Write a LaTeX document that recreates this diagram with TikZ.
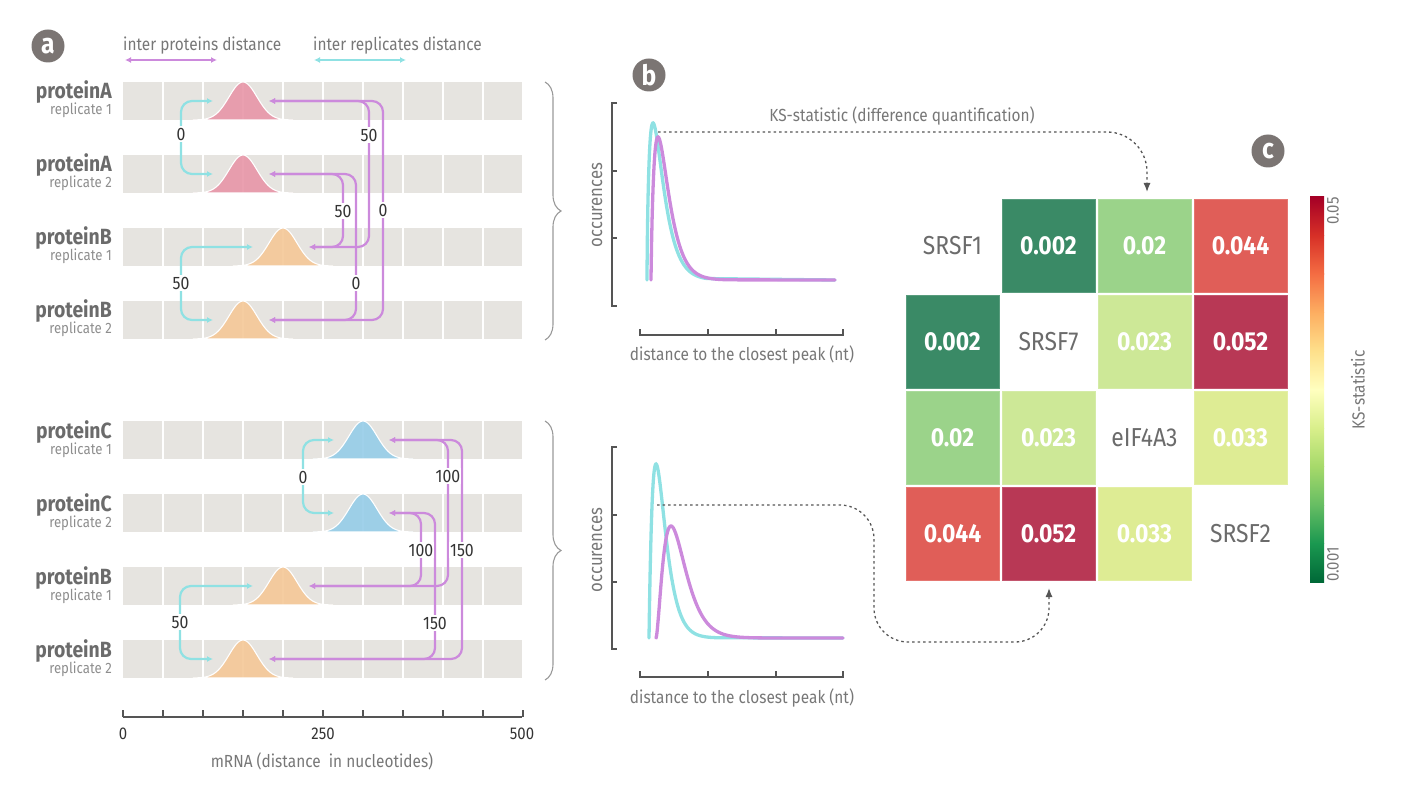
\documentclass[tikz,border=0pt]{standalone}
\usepackage{fontspec}
\setmainfont{Fira Sans}[FakeStretch=0.88]
\usetikzlibrary{arrows.meta,decorations.pathreplacing,calc}
\definecolor{purp}{HTML}{CC8ADC}
\definecolor{cyanl}{HTML}{8FE1E3}
\definecolor{bargray}{HTML}{E6E4E0}
\definecolor{pinkp}{HTML}{E896A8}
\definecolor{orangep}{HTML}{F5C897}
\definecolor{bluep}{HTML}{96CDE8}
\definecolor{labgray}{HTML}{6B6B6B}
\definecolor{subgray}{HTML}{8E8E8E}
\definecolor{txtgray}{HTML}{777777}
\definecolor{axgray}{HTML}{555555}
\definecolor{numgray}{HTML}{333333}
\definecolor{circgray}{HTML}{7B7573}
\definecolor{kdg}{HTML}{3A8A66}
\definecolor{klg}{HTML}{9BD38A}
\definecolor{kred}{HTML}{E05E58}
\definecolor{kyg}{HTML}{CDE897}
\definecolor{kcrim}{HTML}{B83855}
\definecolor{kyel}{HTML}{DEEC94}
\definecolor{cb0}{HTML}{A50026}
\definecolor{cb1}{HTML}{D73027}
\definecolor{cb2}{HTML}{F46D43}
\definecolor{cb3}{HTML}{FDAE61}
\definecolor{cb4}{HTML}{FEE08B}
\definecolor{cb5}{HTML}{FFFFBF}
\definecolor{cb6}{HTML}{D9EF8B}
\definecolor{cb7}{HTML}{A6D96A}
\definecolor{cb8}{HTML}{66BD63}
\definecolor{cb9}{HTML}{1A9850}
\definecolor{cb10}{HTML}{006837}
\tikzset{
  barbox/.style={minimum width=399pt, minimum height=38pt, inner sep=0pt, fill=bargray, draw=none},
  sepline/.style={white, line width=1.8pt},
  bumpline/.style={white, line width=1.1pt, fill opacity=0.9},
  pname/.style={font=\bfseries\fontsize{22}{22}\selectfont, text=labgray, anchor=base east, inner sep=0pt},
  rname/.style={font=\fontsize{15}{15}\selectfont, text=subgray, anchor=base east, inner sep=0pt},
  parr/.style={purp, line width=2.2pt, rounded corners=11pt, {Latex[length=6pt,width=6pt]}-{Latex[length=6pt,width=6pt]}},
  carr/.style={cyanl, line width=2.2pt, rounded corners=11pt, {Latex[length=6pt,width=6pt]}-{Latex[length=6pt,width=6pt]}},
  dlbl/.style={fill=white, inner xsep=1pt, inner ysep=2pt, font=\fontsize{18}{18}\selectfont, text=numgray},
  circlbl/.style={circle, fill=circgray, minimum size=33pt, inner sep=0pt, text=white, font=\bfseries\fontsize{28}{28}\selectfont},
  axline/.style={axgray, line width=1.3pt},
  axlbl/.style={font=\fontsize{17.5}{17.5}\selectfont, text=txtgray},
  ticklbl/.style={font=\fontsize{17}{17}\selectfont, text=numgray},
  cyanc/.style={cyanl, line width=3.3pt, line cap=round},
  purpc/.style={purp, line width=3.3pt, line cap=round},
  dotarr/.style={axgray, line width=1.3pt, dash pattern=on 2.5pt off 3pt, rounded corners=34pt, -{Latex[length=9pt,width=7pt]}},
  cellbox/.style={minimum width=93pt, minimum height=93pt, inner sep=0pt, draw=#1!85!white, line width=0.8pt, fill=#1, text=white, font=\bfseries\fontsize{26}{26}\selectfont},
  diaglbl/.style={minimum width=93pt, minimum height=93pt, inner sep=0pt, text=labgray, font=\fontsize{26}{26}\selectfont},
  brc/.style={decorate, decoration={brace, amplitude=16pt}, draw=black!40, line width=1.1pt}
}
\newcommand\mrnabar[2]{%
  \node[barbox] (#1) at (322.5,#2) {};
  \foreach \k in {1,...,9} \draw[sepline] (123+40*\k,#2-19) -- (123+40*\k,#2+19);
}
\newcommand\peakbump[3]{%
  \draw[bumpline, fill=#3] plot[domain=-50:50, samples=61] ({#1+\x},{#2+19-38*exp(-(\x*\x)/392)}) -- cycle;
}
\newcommand\rowlabel[3]{%
  \node[pname] at (112,#1-2) {#2};
  \node[rname] at (112,#1+14) {#3};
}
\begin{document}
\begin{tikzpicture}[x=1pt,y=-1pt]
\useasboundingbox (0,0) rectangle (1408,802);
% ---------- panel a ----------
\node[circlbl] (ca) at (48,46) {a};
\node[axlbl, anchor=west, inner sep=0pt] (legp) at (123,46) {inter proteins distance};
\node[axlbl, anchor=west, inner sep=0pt] (legc) at (313,46) {inter replicates distance};
\coordinate (lp1) at (125,60); \coordinate (lp2) at (217,60);
\coordinate (lc1) at (314,60); \coordinate (lc2) at (406,60);
\draw[parr, line width=2pt] (lp1) -- (lp2);
\draw[carr, line width=2pt] (lc1) -- (lc2);

% bars top group
\mrnabar{A1}{101}
\mrnabar{A2}{174}
\mrnabar{B1}{247}
\mrnabar{B2}{320}
% bars bottom group
\mrnabar{C1}{440}
\mrnabar{C2}{513}
\mrnabar{D1}{586}
\mrnabar{D2}{659}

\peakbump{243}{101}{pinkp}
\peakbump{243}{174}{pinkp}
\peakbump{283}{247}{orangep}
\peakbump{243}{320}{orangep}
\peakbump{363}{440}{bluep}
\peakbump{363}{513}{bluep}
\peakbump{283}{586}{orangep}
\peakbump{243}{659}{orangep}

\rowlabel{101}{proteinA}{replicate 1}
\rowlabel{174}{proteinA}{replicate 2}
\rowlabel{247}{proteinB}{replicate 1}
\rowlabel{320}{proteinB}{replicate 2}
\rowlabel{440}{proteinC}{replicate 1}
\rowlabel{513}{proteinC}{replicate 2}
\rowlabel{586}{proteinB}{replicate 1}
\rowlabel{659}{proteinB}{replicate 2}

% arrow tips
\coordinate (A1l) at (213,101); \coordinate (A1r) at (269,101);
\coordinate (A2l) at (213,174); \coordinate (A2r) at (269,174);
\coordinate (B1l) at (253,247); \coordinate (B1r) at (309,247);
\coordinate (B2l) at (213,320); \coordinate (B2r) at (269,320);
\coordinate (C1l) at (334,440); \coordinate (C1r) at (389,440);
\coordinate (C2l) at (334,513); \coordinate (C2r) at (389,513);
\coordinate (D1l) at (253,586); \coordinate (D1r) at (309,586);
\coordinate (D2l) at (213,659); \coordinate (D2r) at (269,659);

% cyan (replicates)
\draw[carr] (A1l) -| (181,137) |- (A2l);
\node[dlbl] at (181,134) {0};
\draw[carr] (B1l) -| (181,283) |- (B2l);
\node[dlbl] at (181,283) {50};
\draw[carr] (C1l) -| (303,477) |- (C2l);
\node[dlbl] at (303,477) {0};
\draw[carr] (D1l) -| (180,622) |- (D2l);
\node[dlbl] at (180,622) {50};

% purple (proteins) top
\draw[parr] (A1r) -| (383,210) |- (B2r);
\draw[parr] (A1r) -| (369,170) |- (B1r);
\draw[parr] (A2r) -| (356,250) |- (B2r);
\draw[parr] (A2r) -| (343,210) |- (B1r);
\node[dlbl] at (369,135) {50};
\node[dlbl] at (383,210) {0};
\node[dlbl] at (343,211) {50};
\node[dlbl] at (356,283) {0};
% purple bottom
\draw[parr] (C1r) -| (462,550) |- (D2r);
\draw[parr] (C1r) -| (448,510) |- (D1r);
\draw[parr] (C2r) -| (435,600) |- (D2r);
\draw[parr] (C2r) -| (421,550) |- (D1r);
\node[dlbl] at (448,476) {100};
\node[dlbl] at (462,550) {150};
\node[dlbl] at (421,550) {100};
\node[dlbl] at (435,623) {150};

% axis
\coordinate (ax0) at (123,717); \coordinate (ax1) at (522,717);
\draw[axline] (ax0) -- (ax1);
\foreach \k in {0,...,10} \draw[axline] (123+40*\k,717) -- (123+40*\k,710);
\node[ticklbl] at (123,734) {0};
\node[ticklbl] at (323,734) {250};
\node[ticklbl] at (522,734) {500};
\node[axlbl] at (322,761) {mRNA (distance\ \ in nucleotides)};

% braces
\coordinate (br1a) at (545,82); \coordinate (br1b) at (545,340);
\coordinate (br2a) at (545,421); \coordinate (br2b) at (545,680);
\draw[brc] (br1a) -- (br1b);
\draw[brc] (br2a) -- (br2b);

% ---------- panel b ----------
\node[circlbl] (cb) at (649,75) {b};
% top plot axes
\draw[axline] (617,103) -- (612,103) -- (612,306) -- (617,306);
\draw[axline] (612,171) -- (617,171);
\draw[axline] (612,238) -- (617,238);
\draw[axline] (640,329) -- (640,335) -- (843,335) -- (843,329);
\draw[axline] (708,335) -- (708,329);
\draw[axline] (776,335) -- (776,329);
\node[axlbl, rotate=90, font=\fontsize{19}{19}\selectfont] at (597,205) {occurences};
\node[axlbl] at (742,355) {distance to the closest peak (nt)};
\draw[cyanc] (647,280) -- plot[domain=0.05:60, samples=160] ({647+\x},{280-157*exp(0.7*(ln(\x/6)+1-\x/6))}) -- (835,280);
\draw[purpc] (651,280) -- plot[domain=0.05:80, samples=160] ({651+\x},{280-143*exp(0.85*(ln(\x/7)+1-\x/7))}) -- (835,280);
% bottom plot axes
\draw[axline] (617,447) -- (612,447) -- (612,649) -- (617,649);
\draw[axline] (612,515) -- (617,515);
\draw[axline] (612,582) -- (617,582);
\draw[axline] (640,671) -- (640,677) -- (843,677) -- (843,671);
\draw[axline] (708,677) -- (708,671);
\draw[axline] (776,677) -- (776,671);
\node[axlbl, rotate=90, font=\fontsize{19}{19}\selectfont] at (597,550) {occurences};
\node[axlbl] at (742,698) {distance to the closest peak (nt)};
\draw[cyanc] (649,638) -- plot[domain=0.05:70, samples=160] ({649+\x},{638-174*exp(1.0*(ln(\x/7)+1-\x/7))}) -- (843,638);
\draw[purpc] (656,638) -- plot[domain=0.05:130, samples=200] ({656+\x},{638-112*exp(1.7*(ln(\x/15)+1-\x/15))}) -- (843,638);

% KS text
\node[axlbl] (kstxt) at (902,116) {KS-statistic (difference quantification)};

% ---------- panel c ----------
\node[circlbl] (cc) at (1268,151) {c};
% heatmap
\node[diaglbl] (h11) at (952.5,245.5) {SRSF1};
\node[cellbox=kdg] (h12) at (1048.5,245.5) {0.002};
\node[cellbox=klg] (h13) at (1144.5,245.5) {0.02};
\node[cellbox=kred] (h14) at (1240.5,245.5) {0.044};
\node[cellbox=kdg] (h21) at (952.5,341.5) {0.002};
\node[diaglbl] (h22) at (1048.5,341.5) {SRSF7};
\node[cellbox=kyg] (h23) at (1144.5,341.5) {0.023};
\node[cellbox=kcrim] (h24) at (1240.5,341.5) {0.052};
\node[cellbox=klg] (h31) at (952.5,437.5) {0.02};
\node[cellbox=kyg] (h32) at (1048.5,437.5) {0.023};
\node[diaglbl] (h33) at (1144.5,437.5) {eIF4A3};
\node[cellbox=kyel] (h34) at (1240.5,437.5) {0.033};
\node[cellbox=kred] (h41) at (952.5,533.5) {0.044};
\node[cellbox=kcrim] (h42) at (1048.5,533.5) {0.052};
\node[cellbox=kyel] (h43) at (1144.5,533.5) {0.033};
\node[diaglbl] (h44) at (1240.5,533.5) {SRSF2};

% dotted KS arrows
\coordinate (ks1) at (658,132);
\coordinate (ks2) at (657,505);
\coordinate (t13) at (1147,192);
\coordinate (t42) at (1049,588);
\draw[dotarr, rounded corners=40pt] (ks1) -| (t13);
\draw[dotarr] (ks2) -- (874,505) -- (874,642) -- (1049,642) -- (t42);

% colorbar
\foreach \i/\ca/\cbb in {0/cb0/cb1,1/cb1/cb2,2/cb2/cb3,3/cb3/cb4,4/cb4/cb5,5/cb5/cb6,6/cb6/cb7,7/cb7/cb8,8/cb8/cb9,9/cb9/cb10}
  \shade[top color=\ca, bottom color=\cbb] (1310,197+38.5*\i) rectangle (1324,197+38.5*\i+38.6);
\node[ticklbl, rotate=90, anchor=east, font=\fontsize{17}{17}\selectfont, text=txtgray, inner sep=0pt] (cbtop) at (1333,197) {0.05};
\node[ticklbl, rotate=90, anchor=west, font=\fontsize{17}{17}\selectfont, text=txtgray, inner sep=0pt] (cbbot) at (1333,582) {0.001};
\node[axlbl, rotate=90] (cbttl) at (1358,390) {KS-statistic};
\end{tikzpicture}
\end{document}
